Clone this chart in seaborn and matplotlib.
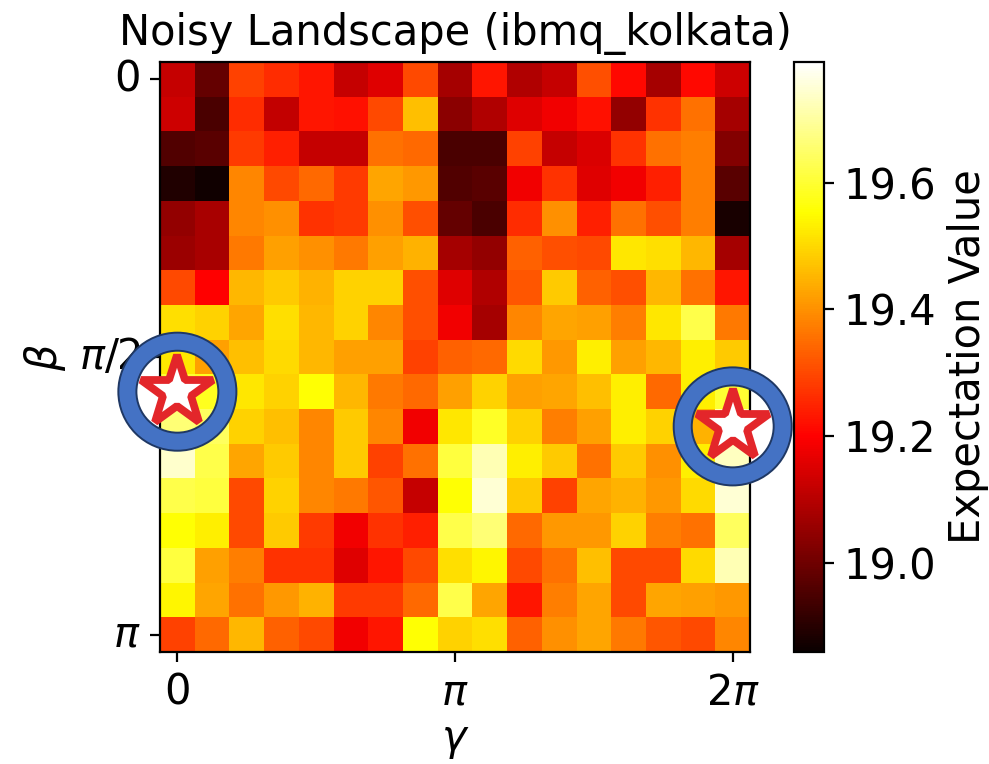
import numpy as np
import pandas as pd
import seaborn as sns
import matplotlib
matplotlib.use("Agg")
import matplotlib.pyplot as plt
from matplotlib import patheffects as pe

# Expectation values, rows = beta index (0 .. pi), columns = gamma index (0 .. 2pi)
row_00 = [19.12, 18.985, 19.29, 19.26, 19.23, 19.12, 19.155, 19.30, 19.075, 19.23, 19.09, 19.12, 19.31, 19.21, 19.075, 19.21, 19.13]
row_01 = [19.13, 18.95, 19.26, 19.115, 19.23, 19.22, 19.30, 19.465, 19.04, 19.09, 19.155, 19.18, 19.22, 19.05, 19.27, 19.355, 19.075]
row_02 = [18.96, 18.97, 19.28, 19.245, 19.12, 19.12, 19.355, 19.345, 18.95, 18.95, 19.29, 19.12, 19.15, 19.27, 19.355, 19.375, 19.03]
row_03 = [18.89, 18.87, 19.385, 19.30, 19.345, 19.28, 19.43, 19.41, 18.96, 18.97, 19.18, 19.27, 19.155, 19.18, 19.245, 19.375, 18.97]
row_04 = [19.05, 19.08, 19.385, 19.40, 19.27, 19.28, 19.40, 19.31, 18.985, 18.95, 19.26, 19.40, 19.245, 19.355, 19.31, 19.375, 18.88]
row_05 = [19.06, 19.08, 19.365, 19.42, 19.40, 19.365, 19.42, 19.445, 19.075, 19.05, 19.335, 19.31, 19.30, 19.52, 19.51, 19.455, 19.075]
row_06 = [19.30, 19.20, 19.455, 19.48, 19.445, 19.49, 19.49, 19.31, 19.155, 19.09, 19.32, 19.48, 19.335, 19.31, 19.455, 19.355, 19.23]
row_07 = [19.51, 19.49, 19.43, 19.51, 19.455, 19.49, 19.385, 19.31, 19.18, 19.075, 19.385, 19.43, 19.42, 19.375, 19.52, 19.62, 19.365]
row_08 = [19.52, 19.42, 19.465, 19.50, 19.455, 19.42, 19.42, 19.29, 19.335, 19.345, 19.50, 19.41, 19.53, 19.42, 19.455, 19.53, 19.48]
row_09 = [19.60, 19.58, 19.52, 19.49, 19.555, 19.455, 19.365, 19.345, 19.42, 19.49, 19.42, 19.43, 19.465, 19.53, 19.345, 19.53, 19.60]
row_10 = [19.66, 19.64, 19.49, 19.465, 19.385, 19.48, 19.385, 19.18, 19.52, 19.59, 19.49, 19.375, 19.42, 19.53, 19.49, 19.445, 19.72]
row_11 = [19.74, 19.62, 19.43, 19.48, 19.385, 19.48, 19.29, 19.355, 19.61, 19.72, 19.53, 19.48, 19.355, 19.48, 19.40, 19.53, 19.73]
row_12 = [19.62, 19.61, 19.30, 19.49, 19.385, 19.365, 19.32, 19.12, 19.555, 19.75, 19.48, 19.29, 19.43, 19.445, 19.41, 19.50, 19.75]
row_13 = [19.555, 19.53, 19.30, 19.48, 19.28, 19.18, 19.27, 19.245, 19.62, 19.66, 19.345, 19.41, 19.41, 19.49, 19.375, 19.355, 19.64]
row_14 = [19.61, 19.42, 19.375, 19.27, 19.27, 19.155, 19.23, 19.30, 19.51, 19.54, 19.30, 19.355, 19.465, 19.30, 19.30, 19.50, 19.72]
row_15 = [19.54, 19.43, 19.355, 19.41, 19.445, 19.28, 19.28, 19.345, 19.62, 19.43, 19.23, 19.375, 19.43, 19.30, 19.43, 19.42, 19.41]
row_16 = [19.29, 19.345, 19.455, 19.335, 19.30, 19.18, 19.23, 19.555, 19.49, 19.51, 19.335, 19.40, 19.43, 19.365, 19.32, 19.30, 19.385]

rows = [row_00, row_01, row_02, row_03, row_04, row_05, row_06, row_07, row_08,
        row_09, row_10, row_11, row_12, row_13, row_14, row_15, row_16]

gamma_tick_idx = [0, 8, 16]
gamma_tick_labels = ["0", r"$\pi$", r"$2\pi$"]
beta_tick_idx = [0, 8, 16]
beta_tick_labels = ["0", r"$\pi/2$", r"$\pi$"]
cbar_ticks = [19.0, 19.2, 19.4, 19.6]

# optimum markers (gamma index, beta index)
opt_gamma_idx = [0, 16]
opt_beta_idx = [9, 10]

vmin, vmax = 18.86, 19.79

data = pd.DataFrame(np.array(rows))

fig = plt.figure(figsize=(4.945, 3.82), dpi=200)
ax = fig.add_axes([0.1618, 0.1466, 0.5966, 0.7723])
cax = fig.add_axes([0.8028, 0.1466, 0.0303, 0.7723])

sns.heatmap(data, cmap="hot", vmin=vmin, vmax=vmax, ax=ax, cbar_ax=cax,
            cbar_kws={"label": "Expectation Value", "ticks": cbar_ticks})

fs = 15
ax.set_xticks([i + 0.5 for i in gamma_tick_idx])
ax.set_xticklabels(gamma_tick_labels, fontsize=fs, rotation=0)
ax.set_yticks([i + 0.5 for i in beta_tick_idx])
ax.set_yticklabels(beta_tick_labels, fontsize=fs, rotation=0)
ax.set_xlabel(r"$\gamma$", fontsize=fs, labelpad=2)
ax.set_ylabel(r"$\beta$", fontsize=fs)
ax.set_title("Noisy Landscape (ibmq_kolkata)", fontsize=fs)
ax.tick_params(length=3.5, width=0.8)
for s in ax.spines.values():
    s.set_visible(True)
    s.set_color("black")
    s.set_linewidth(0.8)

cb = ax.collections[0].colorbar
cb.outline.set_linewidth(0.8)
cb.outline.set_edgecolor("black")
cb.ax.tick_params(labelsize=fs, length=3.5, width=0.8)
cb.set_label("Expectation Value", fontsize=fs, labelpad=4)
cb.ax.set_yticklabels([f"{t:.1f}" for t in cbar_ticks])

xs = [g + 0.5 for g in opt_gamma_idx]
ys = [b + 0.5 for b in opt_beta_idx]
ax.plot(xs, ys, linestyle="none", marker="o", markersize=36,
        markerfacecolor="none", markeredgecolor="#4472C4", markeredgewidth=5.8,
        clip_on=False, zorder=10,
        path_effects=[pe.Stroke(linewidth=7.2, foreground="#1F3864"), pe.Normal()])
ax.plot(xs, ys, linestyle="none", marker="*", markersize=27,
        markerfacecolor="white", markeredgecolor="#E3262A", markeredgewidth=2.8,
        clip_on=False, zorder=11)

fig.savefig("out.png", dpi=200)
